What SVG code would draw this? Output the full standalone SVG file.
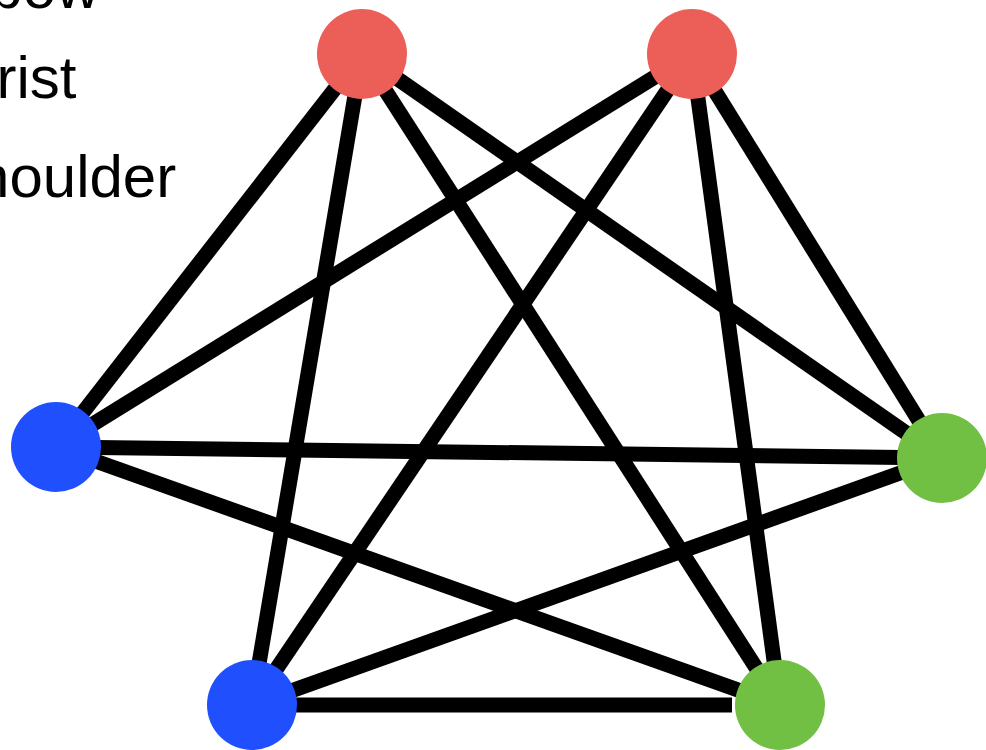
<svg xmlns="http://www.w3.org/2000/svg" width="986" height="750" viewBox="0 0 986 750">
  <style>
    .label { font-family: "Liberation Sans", Arial, sans-serif; font-size: 60px; fill: #000; }
    .edge { stroke: #000; stroke-width: 15; fill: none; }
    .red { fill: #EC5F59; }
    .blue { fill: #2050FE; }
    .green { fill: #71BF43; }
  </style>
  <rect width="986" height="750" fill="#fff"/>

  <!-- legend, partly off the left edge -->
  <g id="legend">
    <text class="label" x="-64" y="8">Elbow</text>
    <text class="label" x="-59" y="98">Wrist</text>
    <text class="label" x="-64" y="197">Shoulder</text>
  </g>

  <!-- connectors -->
  <g id="edges">
    <line class="edge" x1="362" y1="54" x2="56" y2="447"/>
    <line class="edge" x1="362" y1="54" x2="252" y2="705"/>
    <line class="edge" x1="362" y1="54" x2="942" y2="458"/>
    <line class="edge" x1="362" y1="54" x2="780" y2="705"/>
    <line class="edge" x1="692" y1="54" x2="56" y2="447"/>
    <line class="edge" x1="692" y1="54" x2="252" y2="705"/>
    <line class="edge" x1="692" y1="54" x2="942" y2="458"/>
    <line class="edge" x1="692" y1="54" x2="780" y2="705"/>
    <line class="edge" x1="56" y1="447" x2="942" y2="458"/>
    <line class="edge" x1="56" y1="447" x2="780" y2="705"/>
    <line class="edge" x1="252" y1="705" x2="942" y2="458"/>
    <line class="edge" x1="252" y1="705" x2="732" y2="705"/>
  </g>

  <!-- nodes -->
  <g id="node-red-1"><circle class="red" cx="362" cy="54" r="45"/></g>
  <g id="node-red-2"><circle class="red" cx="692" cy="54" r="45"/></g>
  <g id="node-blue-1"><circle class="blue" cx="56" cy="447" r="45"/></g>
  <g id="node-blue-2"><circle class="blue" cx="252" cy="705" r="45"/></g>
  <g id="node-green-1"><circle class="green" cx="942" cy="458" r="45"/></g>
  <g id="node-green-2"><circle class="green" cx="780" cy="705" r="45"/></g>
</svg>
